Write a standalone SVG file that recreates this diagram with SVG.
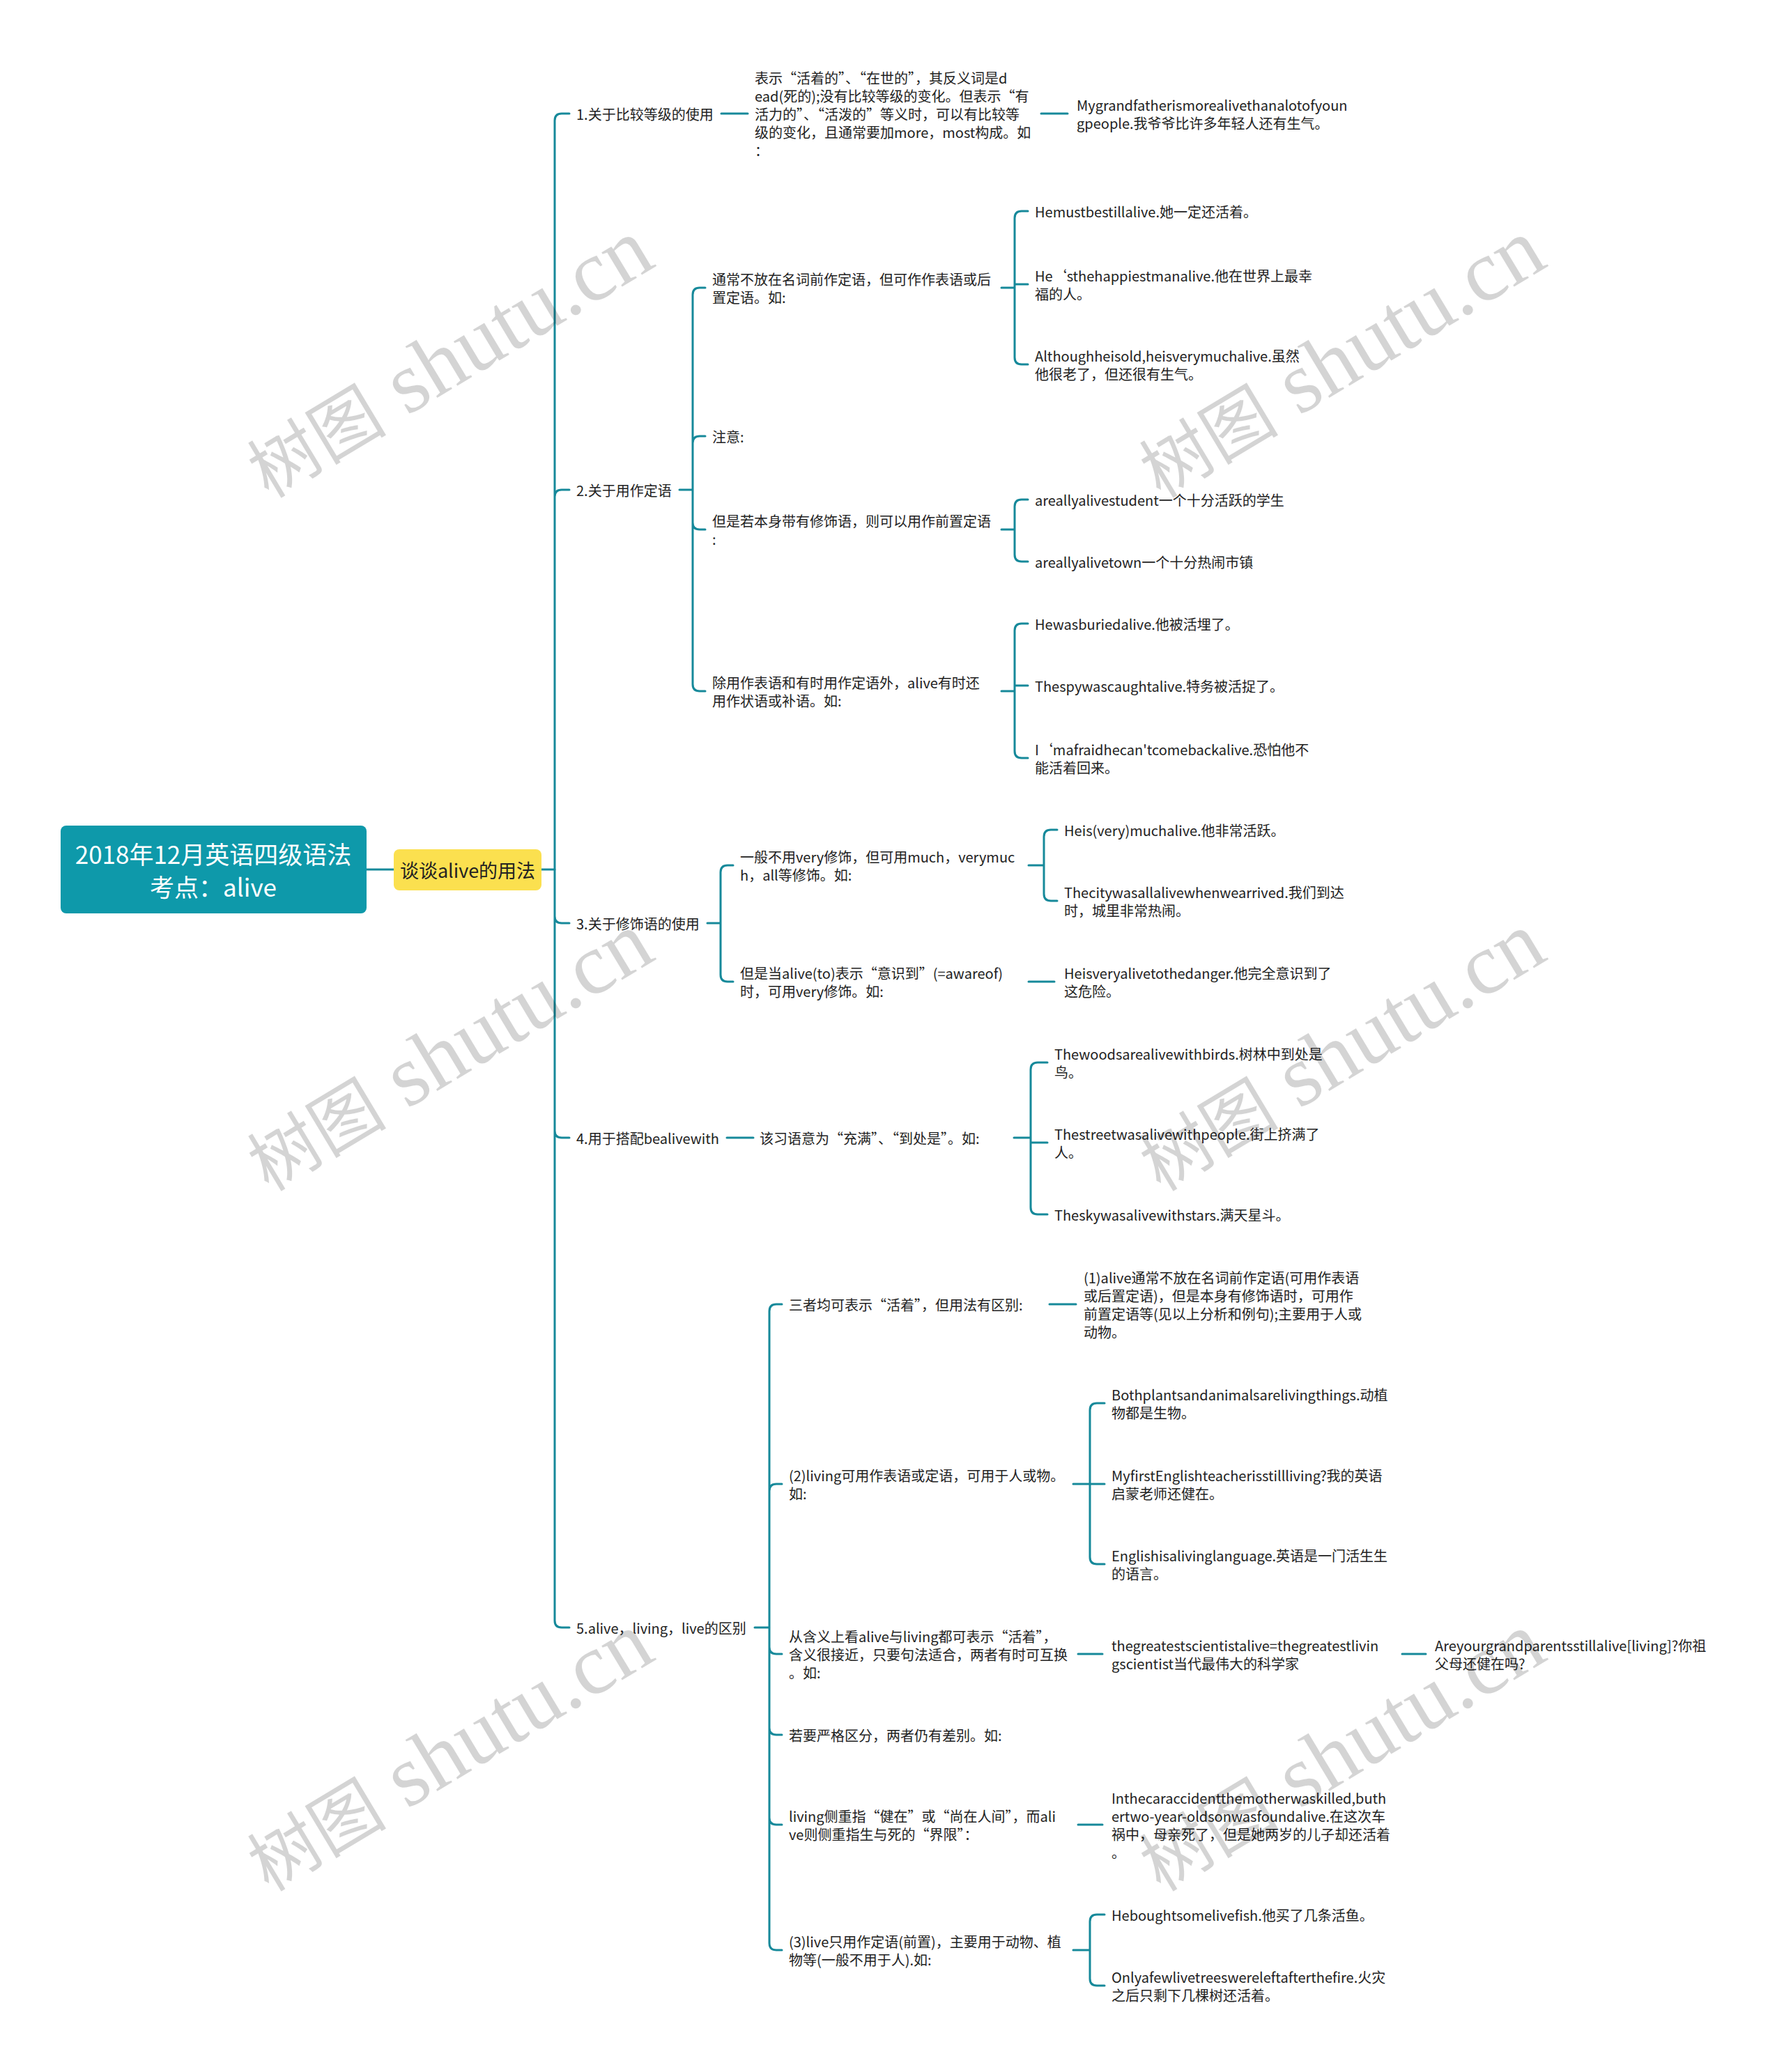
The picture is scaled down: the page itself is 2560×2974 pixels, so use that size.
<svg xmlns="http://www.w3.org/2000/svg" width="2560" height="2974" viewBox="0 0 2560 2974">
<style>
.t{font-family:"Noto Sans CJK SC","Noto Sans",sans-serif;font-size:20px;fill:#222;dominant-baseline:central}
.q{font-feature-settings:"fwid" 1}
.c{fill:none;stroke:#16899a;stroke-width:3;stroke-linecap:round}
.wm{font-family:"Liberation Serif","Noto Sans CJK SC",serif;fill:#000;fill-opacity:0.17}
</style>
<rect width="2560" height="2974" fill="#ffffff"/>
<g id="connectors" class="c">
<path d="M525,1248 H565 M777,1248 H796"/>
<path d="M796,173 V2326 M796,173 Q796,163 806,163 H817 M796,713 Q796,703 806,703 H817 M796,1315 Q796,1325 806,1325 H817 M796,1623 Q796,1633 806,1633 H817 M796,2326 Q796,2336 806,2336 H817"/>
<path d="M1035,163 H1073 M1494,163 H1532"/>
<path d="M975,703 H994 M994,423 V982 M994,423 Q994,413 1004,413 H1012 M994,636 Q994,626 1004,626 H1012 M994,750 Q994,760 1004,760 H1012 M994,982 Q994,992 1004,992 H1012"/>
<path d="M1437,413 H1456 M1456,313 V513 M1456,313 Q1456,303 1466,303 H1475 M1456,408 H1475 M1456,513 Q1456,523 1466,523 H1475"/>
<path d="M1437,760 H1456 M1456,727 V796 M1456,727 Q1456,717 1466,717 H1475 M1456,796 Q1456,806 1466,806 H1475"/>
<path d="M1437,992 H1456 M1456,905 V1078 M1456,905 Q1456,895 1466,895 H1475 M1456,984 H1475 M1456,1078 Q1456,1088 1466,1088 H1475"/>
<path d="M1015,1325 H1034 M1034,1252 V1399 M1034,1252 Q1034,1242 1044,1242 H1052 M1034,1399 Q1034,1409 1044,1409 H1052"/>
<path d="M1476,1242 H1498 M1498,1201 V1283 M1498,1201 Q1498,1191 1508,1191 H1517 M1498,1283 Q1498,1293 1508,1293 H1517 M1476,1409 H1513"/>
<path d="M1043,1633 H1081 M1455,1633 H1479 M1479,1535 V1733 M1479,1535 Q1479,1525 1489,1525 H1503 M1479,1640 H1503 M1479,1733 Q1479,1743 1489,1743 H1503"/>
<path d="M1083,2336 H1104 M1104,1882 V2789 M1104,1882 Q1104,1872 1114,1872 H1122 M1104,2140 Q1104,2130 1114,2130 H1122 M1104,2364 Q1104,2374 1114,2374 H1122 M1104,2480 Q1104,2490 1114,2490 H1122 M1104,2609 Q1104,2619 1114,2619 H1122 M1104,2789 Q1104,2799 1114,2799 H1122"/>
<path d="M1506,1872 H1544 M1540,2130 H1564 M1564,2024 V2235 M1564,2024 Q1564,2014 1574,2014 H1585 M1564,2130 H1585 M1564,2235 Q1564,2245 1574,2245 H1585"/>
<path d="M1547,2374 H1582 M2012,2374 H2046 M1547,2619 H1582"/>
<path d="M1540,2799 H1564 M1564,2758 V2840 M1564,2758 Q1564,2748 1574,2748 H1585 M1564,2840 Q1564,2850 1574,2850 H1585"/>
</g>
<g id="root">
<rect x="87" y="1185" width="439" height="126" rx="8" fill="#0e99aa"/>
<text class="t" x="306" y="1224" text-anchor="middle" style="font-size:35px;fill:#fff">2018年12月英语四级语法</text>
<text class="t" x="306" y="1271" text-anchor="middle" style="font-size:35px;fill:#fff">考点：alive</text>
</g>
<g id="subject">
<rect x="565" y="1219" width="212" height="59" rx="8" fill="#fbe04f"/>
<text class="t" x="671" y="1248" text-anchor="middle" style="font-size:27px">谈谈alive的用法</text>
</g>
<g id="n1"><text class="t" x="827" y="163">1.关于比较等级的使用</text></g>
<g id="n1a"><text class="t" x="1083" y="111">表示<tspan class="q">“</tspan>活着的<tspan class="q">”</tspan>、<tspan class="q">“</tspan>在世的<tspan class="q">”</tspan>，其反义词是d</text><text class="t" x="1083" y="137">ead(死的);没有比较等级的变化。但表示<tspan class="q">“</tspan>有</text><text class="t" x="1083" y="163">活力的<tspan class="q">”</tspan>、<tspan class="q">“</tspan>活泼的<tspan class="q">”</tspan>等义时，可以有比较等</text><text class="t" x="1083" y="189">级的变化，且通常要加more，most构成。如</text><text class="t" x="1083" y="215">：</text></g>
<g id="n1a1"><text class="t" x="1545" y="150">Mygrandfatherismorealivethanalotofyoun</text><text class="t" x="1545" y="176">gpeople.我爷爷比许多年轻人还有生气。</text></g>
<g id="n2"><text class="t" x="827" y="703">2.关于用作定语</text></g>
<g id="n2a"><text class="t" x="1022" y="400">通常不放在名词前作定语，但可作作表语或后</text><text class="t" x="1022" y="426">置定语。如:</text></g>
<g id="n2a1"><text class="t" x="1485" y="303">Hemustbestillalive.她一定还活着。</text></g>
<g id="n2a2"><text class="t" x="1485" y="395">He‘sthehappiestmanalive.他在世界上最幸</text><text class="t" x="1485" y="421">福的人。</text></g>
<g id="n2a3"><text class="t" x="1485" y="510">Althoughheisold,heisverymuchalive.虽然</text><text class="t" x="1485" y="536">他很老了，但还很有生气。</text></g>
<g id="n2b"><text class="t" x="1022" y="626">注意:</text></g>
<g id="n2c"><text class="t" x="1022" y="747">但是若本身带有修饰语，则可以用作前置定语</text><text class="t" x="1022" y="773">:</text></g>
<g id="n2c1"><text class="t" x="1485" y="717">areallyalivestudent一个十分活跃的学生</text></g>
<g id="n2c2"><text class="t" x="1485" y="806">areallyalivetown一个十分热闹市镇</text></g>
<g id="n2d"><text class="t" x="1022" y="979">除用作表语和有时用作定语外，alive有时还</text><text class="t" x="1022" y="1005">用作状语或补语。如:</text></g>
<g id="n2d1"><text class="t" x="1485" y="895">Hewasburiedalive.他被活埋了。</text></g>
<g id="n2d2"><text class="t" x="1485" y="984">Thespywascaughtalive.特务被活捉了。</text></g>
<g id="n2d3"><text class="t" x="1485" y="1075">I‘mafraidhecan'tcomebackalive.恐怕他不</text><text class="t" x="1485" y="1101">能活着回来。</text></g>
<g id="n3"><text class="t" x="827" y="1325">3.关于修饰语的使用</text></g>
<g id="n3a"><text class="t" x="1062" y="1229">一般不用very修饰，但可用much，verymuc</text><text class="t" x="1062" y="1255">h，all等修饰。如:</text></g>
<g id="n3a1"><text class="t" x="1527" y="1191">Heis(very)muchalive.他非常活跃。</text></g>
<g id="n3a2"><text class="t" x="1527" y="1280">Thecitywasallalivewhenwearrived.我们到达</text><text class="t" x="1527" y="1306">时，城里非常热闹。</text></g>
<g id="n3b"><text class="t" x="1062" y="1396">但是当alive(to)表示<tspan class="q">“</tspan>意识到<tspan class="q">”</tspan>(=awareof)</text><text class="t" x="1062" y="1422">时，可用very修饰。如:</text></g>
<g id="n3b1"><text class="t" x="1527" y="1396">Heisveryalivetothedanger.他完全意识到了</text><text class="t" x="1527" y="1422">这危险。</text></g>
<g id="n4"><text class="t" x="827" y="1633">4.用于搭配bealivewith</text></g>
<g id="n4a"><text class="t" x="1090" y="1633">该习语意为<tspan class="q">“</tspan>充满<tspan class="q">”</tspan>、<tspan class="q">“</tspan>到处是<tspan class="q">”</tspan>。如:</text></g>
<g id="n4a1"><text class="t" x="1513" y="1512">Thewoodsarealivewithbirds.树林中到处是</text><text class="t" x="1513" y="1538">鸟。</text></g>
<g id="n4a2"><text class="t" x="1513" y="1627">Thestreetwasalivewithpeople.街上挤满了</text><text class="t" x="1513" y="1653">人。</text></g>
<g id="n4a3"><text class="t" x="1513" y="1743">Theskywasalivewithstars.满天星斗。</text></g>
<g id="n5"><text class="t" x="827" y="2336">5.alive，living，live的区别</text></g>
<g id="n5a"><text class="t" x="1132" y="1872">三者均可表示<tspan class="q">“</tspan>活着<tspan class="q">”</tspan>，但用法有区别:</text></g>
<g id="n5a1"><text class="t" x="1555" y="1833">(1)alive通常不放在名词前作定语(可用作表语</text><text class="t" x="1555" y="1859">或后置定语)，但是本身有修饰语时，可用作</text><text class="t" x="1555" y="1885">前置定语等(见以上分析和例句);主要用于人或</text><text class="t" x="1555" y="1911">动物。</text></g>
<g id="n5b"><text class="t" x="1132" y="2117">(2)living可用作表语或定语，可用于人或物。</text><text class="t" x="1132" y="2143">如:</text></g>
<g id="n5b1"><text class="t" x="1595" y="2001">Bothplantsandanimalsarelivingthings.动植</text><text class="t" x="1595" y="2027">物都是生物。</text></g>
<g id="n5b2"><text class="t" x="1595" y="2117">MyfirstEnglishteacherisstillliving?我的英语</text><text class="t" x="1595" y="2143">启蒙老师还健在。</text></g>
<g id="n5b3"><text class="t" x="1595" y="2232">Englishisalivinglanguage.英语是一门活生生</text><text class="t" x="1595" y="2258">的语言。</text></g>
<g id="n5c"><text class="t" x="1132" y="2348">从含义上看alive与living都可表示<tspan class="q">“</tspan>活着<tspan class="q">”</tspan>，</text><text class="t" x="1132" y="2374">含义很接近，只要句法适合，两者有时可互换</text><text class="t" x="1132" y="2400">。如:</text></g>
<g id="n5c1"><text class="t" x="1595" y="2361">thegreatestscientistalive=thegreatestlivin</text><text class="t" x="1595" y="2387">gscientist当代最伟大的科学家</text></g>
<g id="n5c1a"><text class="t" x="2059" y="2361">Areyourgrandparentsstillalive[living]?你祖</text><text class="t" x="2059" y="2387">父母还健在吗?</text></g>
<g id="n5d"><text class="t" x="1132" y="2490">若要严格区分，两者仍有差别。如:</text></g>
<g id="n5e"><text class="t" x="1132" y="2606">living侧重指<tspan class="q">“</tspan>健在<tspan class="q">”</tspan>或<tspan class="q">“</tspan>尚在人间<tspan class="q">”</tspan>，而ali</text><text class="t" x="1132" y="2632">ve则侧重指生与死的<tspan class="q">“</tspan>界限<tspan class="q">”</tspan>：</text></g>
<g id="n5e1"><text class="t" x="1595" y="2580">Inthecaraccidentthemotherwaskilled,buth</text><text class="t" x="1595" y="2606">ertwo-year-oldsonwasfoundalive.在这次车</text><text class="t" x="1595" y="2632">祸中，母亲死了，但是她两岁的儿子却还活着</text><text class="t" x="1595" y="2658">。</text></g>
<g id="n5f"><text class="t" x="1132" y="2786">(3)live只用作定语(前置)，主要用于动物、植</text><text class="t" x="1132" y="2812">物等(一般不用于人).如:</text></g>
<g id="n5f1"><text class="t" x="1595" y="2748">Heboughtsomelivefish.他买了几条活鱼。</text></g>
<g id="n5f2"><text class="t" x="1595" y="2837">Onlyafewlivetreeswereleftafterthefire.火灾</text><text class="t" x="1595" y="2863">之后只剩下几棵树还活着。</text></g>
<g id="watermarks">
<text class="wm" transform="translate(645,516) rotate(-31)" y="38" text-anchor="middle"><tspan font-size="100">树图</tspan><tspan font-size="125"> shutu.cn</tspan></text>
<text class="wm" transform="translate(1925,516) rotate(-31)" y="38" text-anchor="middle"><tspan font-size="100">树图</tspan><tspan font-size="125"> shutu.cn</tspan></text>
<text class="wm" transform="translate(645,1511) rotate(-31)" y="38" text-anchor="middle"><tspan font-size="100">树图</tspan><tspan font-size="125"> shutu.cn</tspan></text>
<text class="wm" transform="translate(1925,1511) rotate(-31)" y="38" text-anchor="middle"><tspan font-size="100">树图</tspan><tspan font-size="125"> shutu.cn</tspan></text>
<text class="wm" transform="translate(645,2516) rotate(-31)" y="38" text-anchor="middle"><tspan font-size="100">树图</tspan><tspan font-size="125"> shutu.cn</tspan></text>
<text class="wm" transform="translate(1925,2516) rotate(-31)" y="38" text-anchor="middle"><tspan font-size="100">树图</tspan><tspan font-size="125"> shutu.cn</tspan></text>
</g>
</svg>
